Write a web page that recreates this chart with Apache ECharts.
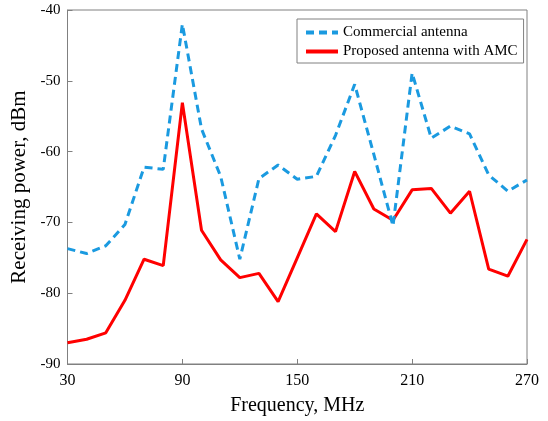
<!DOCTYPE html>
<html>
<head>
<meta charset="utf-8">
<script src="https://cdn.jsdelivr.net/npm/echarts@6/dist/echarts.min.js"></script>
<style>
html, body { margin: 0; padding: 0; background: #fff; }
#chart { width: 548px; height: 421px; }
</style>
</head>
<body>
<div id="chart"></div>
<script>
// frequency points, MHz
var freq = [30, 40, 50, 60, 70, 80, 90, 100, 110, 120, 130, 140, 150, 160, 170, 180, 190, 200, 210, 220, 230, 240, 250, 260, 270]
// receiving power, dBm
var commercial = [-73.7, -74.4, -73.3, -70.3, -62.2, -62.5, -42.0, -56.8, -63.5, -75.2, -63.8, -61.9, -63.9, -63.5, -57.7, -50.5, -60.4, -70.5, -48.9, -58.1, -56.4, -57.5, -63.3, -65.6, -64.0]
var proposed = [-87.0, -86.5, -85.6, -81.0, -75.2, -76.1, -53.1, -71.1, -75.3, -77.8, -77.2, -81.2, -75.0, -68.8, -71.3, -62.8, -68.1, -69.7, -65.4, -65.2, -68.7, -65.6, -76.6, -77.6, -72.4]
var seriesNames = ['Commercial antenna', 'Proposed antenna with AMC']

var font = 'Liberation Serif'
var axisGray = '#808080'

function pairs(ys) {
    return freq.map(function (f, i) { return [f, ys[i]] })
}

var myChart = echarts.init(document.getElementById('chart'))
var options = {
    animation: false,
    grid: {
        left: 67.5,
        right: 21,
        top: 10,
        bottom: 53.5
    },
    legend: {
        orient: 'vertical',
        left: 297,
        top: 19,
        padding: [6, 6, 4, 7],
        itemWidth: 32,
        itemHeight: 14,
        itemGap: 4,
        borderColor: axisGray,
        borderWidth: 1,
        backgroundColor: '#fff',
        itemStyle: { opacity: 0 },
        lineStyle: { width: 4 },
        textStyle: {
            fontFamily: font,
            fontSize: 15,
            color: '#000'
        },
        data: seriesNames
    },
    xAxis: {
        type: 'value',
        min: 30,
        max: 270,
        interval: 60,
        name: 'Frequency, MHz',
        nameLocation: 'middle',
        nameGap: 32,
        nameTextStyle: {
            fontFamily: font,
            fontSize: 20,
            color: '#000'
        },
        axisLine: { show: true, lineStyle: { color: axisGray, width: 1 } },
        axisTick: { show: true, inside: true, length: 5, lineStyle: { color: axisGray } },
        axisLabel: { fontFamily: font, fontSize: 16, color: '#000', margin: 9 },
        splitLine: { show: false }
    },
    yAxis: {
        type: 'value',
        min: -90,
        max: -40,
        interval: 10,
        name: 'Receiving power, dBm',
        nameLocation: 'middle',
        nameGap: 37,
        nameTextStyle: {
            fontFamily: font,
            fontSize: 21,
            color: '#000'
        },
        axisLine: { show: true, lineStyle: { color: axisGray, width: 1 } },
        axisTick: { show: true, inside: true, length: 5, lineStyle: { color: axisGray } },
        axisLabel: { fontFamily: font, fontSize: 15, color: '#000', margin: 7 },
        splitLine: { show: false }
    },
    series: [
        {
            name: seriesNames[0],
            type: 'line',
            data: pairs(commercial),
            symbol: 'none',
            lineStyle: {
                color: '#1a9ae0',
                width: 3,
                type: [8, 5]
            },
            itemStyle: { color: '#1a9ae0' },
            z: 3
        },
        {
            name: seriesNames[1],
            type: 'line',
            data: pairs(proposed),
            symbol: 'none',
            lineStyle: {
                color: '#ff0000',
                width: 3
            },
            itemStyle: { color: '#ff0000' },
            z: 2
        }
    ]
}
myChart.setOption(options)

// box around the plot, taken from the grid rect
var rect = myChart.getModel().getComponent('grid').coordinateSystem.getRect()
myChart.setOption({
    graphic: [{
        type: 'rect',
        shape: { x: rect.x, y: rect.y, width: rect.width, height: rect.height },
        style: { fill: 'none', stroke: axisGray, lineWidth: 1 },
        silent: true,
        z: 0
    }]
})
</script>
</body>
</html>
